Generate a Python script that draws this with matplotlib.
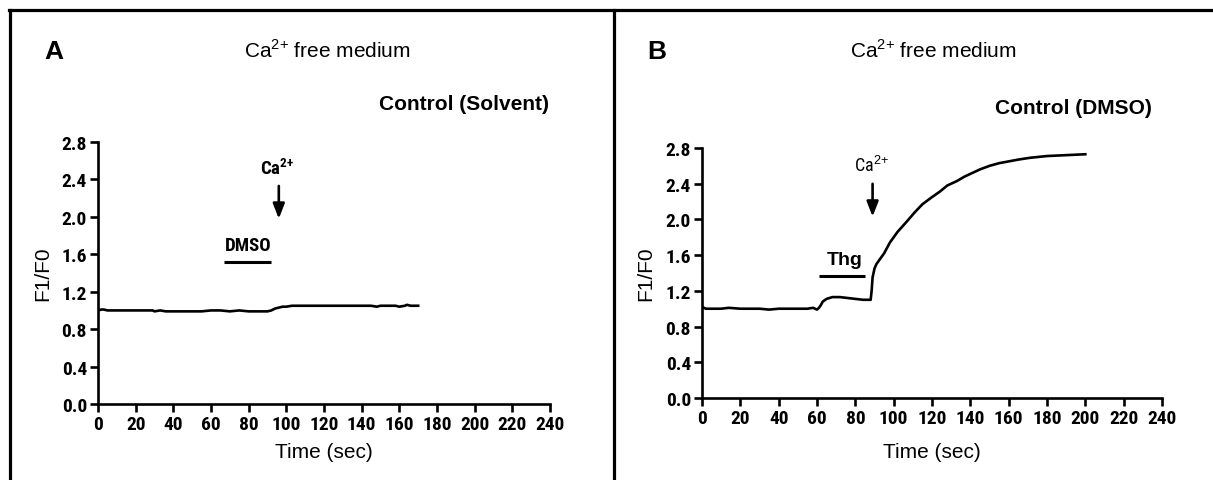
import numpy as np
import matplotlib
matplotlib.use("Agg")
import matplotlib.pyplot as plt
from matplotlib.lines import Line2D
from matplotlib import font_manager

plt.rcParams['font.family'] = ['Liberation Sans', 'DejaVu Sans']

# narrow bold face for the GraphPad-like tick labels, if installed
names = {f.name for f in font_manager.fontManager.ttflist}
NARROW = [n for n in ['Liberation Sans Narrow', 'Roboto Condensed', 'Liberation Sans']
          if n in names] + ['DejaVu Sans']

plt.rcParams['mathtext.fontset'] = 'custom'
plt.rcParams['mathtext.rm'] = 'Liberation Sans'
plt.rcParams['mathtext.bf'] = NARROW[0] + ':bold'

# panel A: Control (Solvent)
t_a = [0, 2, 3, 5, 10, 15, 20, 25, 29, 30, 33, 36, 40, 45, 50, 55, 60, 65, 70, 75,
       80, 85, 90, 92, 94, 96, 98, 100, 103, 106, 110, 115, 120, 125, 130, 135,
       140, 145, 148, 150, 155, 158, 160, 163, 164, 166, 170]
v_a = [1.00, 1.01, 1.01, 1.00, 1.00, 1.00, 1.00, 1.00, 1.00, 0.99, 1.00, 0.99, 0.99,
       0.99, 0.99, 0.99, 1.00, 1.00, 0.99, 1.00, 0.99, 0.99, 0.99, 1.00, 1.02, 1.03,
       1.04, 1.04, 1.05, 1.05, 1.05, 1.05, 1.05, 1.05, 1.05, 1.05, 1.05, 1.05, 1.04,
       1.05, 1.05, 1.05, 1.04, 1.05, 1.06, 1.05, 1.05]

# panel B: Control (DMSO)
t_b = [0, 2, 5, 10, 14, 20, 25, 30, 35, 40, 45, 50, 55, 58, 60, 61, 62, 63, 65, 68,
       72, 76, 80, 84, 87, 88, 88.5, 89, 90, 91, 95, 98, 102, 107, 111, 115, 120,
       124, 128, 133, 137, 141, 145, 150, 155, 160, 165, 171, 180, 190, 200]
v_b = [1.02, 1.00, 1.00, 1.00, 1.01, 1.00, 1.00, 1.00, 0.99, 1.00, 1.00, 1.00, 1.00,
       1.01, 0.99, 1.01, 1.04, 1.08, 1.11, 1.13, 1.13, 1.12, 1.11, 1.10, 1.10, 1.10,
       1.20, 1.35, 1.45, 1.50, 1.62, 1.74, 1.86, 1.98, 2.08, 2.17, 2.25, 2.31, 2.38,
       2.43, 2.48, 2.52, 2.56, 2.60, 2.63, 2.65, 2.67, 2.69, 2.71, 2.72, 2.73]

x_ticks = list(range(0, 241, 20))
y_ticks = [0.0, 0.4, 0.8, 1.2, 1.6, 2.0, 2.4, 2.8]

W, H = 1213, 481
fig = plt.figure(figsize=(W / 100, H / 100), dpi=100)


def px(x, y):
    return x / W, 1 - y / H


def style(ax):
    for s in ['top', 'right']:
        ax.spines[s].set_visible(False)
    for s in ['left', 'bottom']:
        ax.spines[s].set_linewidth(1.9)
    ax.set_xlim(0, 240)
    ax.set_ylim(0, 2.8)
    ax.set_xticks(x_ticks)
    ax.set_yticks(y_ticks)
    ax.set_yticklabels(['%.1f' % v for v in y_ticks])
    ax.tick_params(direction='out', length=6, width=1.9, pad=2)
    for lab in ax.get_xticklabels() + ax.get_yticklabels():
        lab.set_family(NARROW)
        lab.set_fontweight('bold')
        lab.set_fontsize(14)


# panel A
ax1 = fig.add_axes([98 / W, 1 - 405 / H, 452 / W, 262 / H])
ax1.plot(t_a, v_a, color='black', lw=1.9)
style(ax1)
ax1.plot([67, 92], [1.52, 1.52], color='black', lw=2.2, solid_capstyle='butt')
ax1.text(80, 1.60, 'DMSO', ha='center', va='bottom', fontsize=13.5,
         fontweight='bold', family=NARROW)
ax1.annotate('', xy=(96, 1.95), xytext=(96, 2.36),
             arrowprops=dict(arrowstyle='-|>,head_width=0.35,head_length=0.9',
                             color='black', lw=1.9))
ax1.text(95, 2.42, r'Ca$^{\mathbf{2{+}}}$', ha='center', va='bottom', fontsize=13.5,
         fontweight='bold', family=NARROW)

# panel B
ax2 = fig.add_axes([702 / W, 1 - 399 / H, 460 / W, 250 / H])
ax2.plot(t_b, v_b, color='black', lw=1.9)
style(ax2)
ax2.plot([61, 85], [1.37, 1.37], color='black', lw=2.2, solid_capstyle='butt')
ax2.text(74.5, 1.46, 'Thg', ha='center', va='bottom', fontsize=14,
         fontweight='bold')
ax2.annotate('', xy=(89, 2.0), xytext=(89, 2.43),
             arrowprops=dict(arrowstyle='-|>,head_width=0.35,head_length=0.9',
                             color='black', lw=1.9))
ax2.text(88.5, 2.50, r'Ca$^{2{+}}$', ha='center', va='bottom', fontsize=13,
         family=NARROW)

# labels around the axes
for x0, letter, tx, ctrl, cx, cy, yl, xl in [
        (54, 'A', 327, 'Control (Solvent)', 549, 105, 43, 324),
        (657, 'B', 933, 'Control (DMSO)', 1152, 108, 646, 932)]:
    fig.text(*px(x0, 52), letter, ha='center', va='center', fontsize=19,
             fontweight='bold')
    fig.text(*px(tx, 50), r'Ca$^{2{+}}$ free medium', ha='center', va='center',
             fontsize=15)
    fig.text(*px(cx, cy), ctrl, ha='right', va='center', fontsize=15,
             fontweight='bold')
    fig.text(*px(yl, 274), 'F1/F0', ha='center', va='center', fontsize=15,
             rotation=90)
    fig.text(*px(xl, 453), 'Time (sec)', ha='center', va='center', fontsize=15)

# panel frame
lw = 2.3
fig.add_artist(Line2D([9 / W, 1], [1 - 11 / H, 1 - 11 / H], color='black', lw=lw))
fig.add_artist(Line2D([10 / W, 10 / W], [0, 1 - 11 / H], color='black', lw=lw))
fig.add_artist(Line2D([614 / W, 614 / W], [0, 1 - 11 / H], color='black', lw=lw))

fig.savefig('out.png', dpi=100)
